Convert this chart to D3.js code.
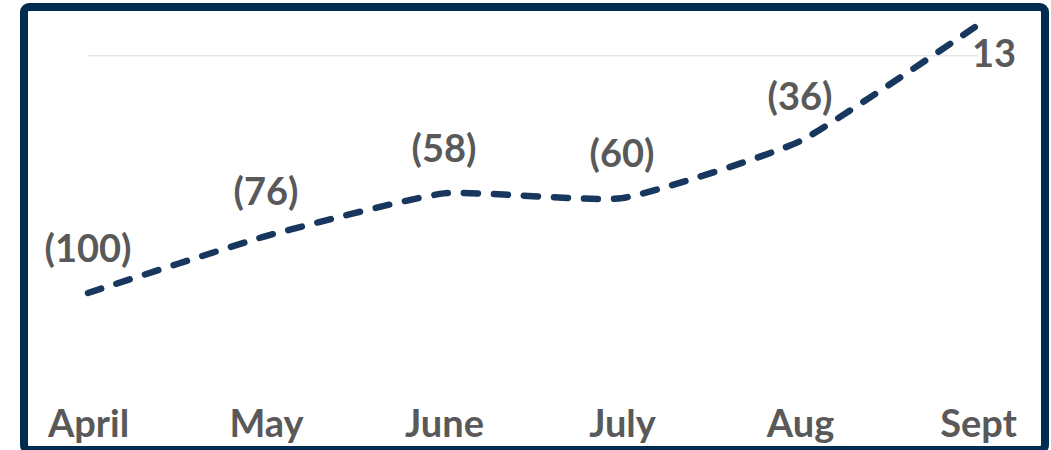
<!DOCTYPE html>
<html>
<head>
<meta charset="utf-8">
<script src="https://cdn.jsdelivr.net/npm/d3@7"></script>
<style>
  html, body { margin: 0; padding: 0; background: #fff; }
  svg { display: block; }
  text { font-family: Lato, "Open Sans", sans-serif; font-weight: 700; fill: #595959; }
</style>
</head>
<body>
<svg id="chart" width="1051" height="450"></svg>
<script>
// Monthly variance
const months = ["April", "May", "June", "July", "Aug", "Sept"];
const values = [-100, -76, -58, -60, -36, 13];
const valueLabels = ["(100)", "(76)", "(58)", "(60)", "(36)", "13"];
const gridValues = [0];

const svg = d3.select("#chart");

const x = d3.scalePoint().domain(months).range([88, 978]);
const y = d3.scaleLinear().domain([-100, 13]).range([293, 25]);

// frame
svg.append("rect")
  .attr("x", 24).attr("y", 7)
  .attr("width", 1021).attr("height", 443)
  .attr("rx", 5)
  .attr("fill", "#fff")
  .attr("stroke", "#002c4f")
  .attr("stroke-width", 8);

// gridline
svg.selectAll("line.grid").data(gridValues).join("line")
  .attr("class", "grid")
  .attr("x1", 88).attr("x2", 978)
  .attr("y1", d => y(d)).attr("y2", d => y(d))
  .attr("stroke", "#d9d9d9").attr("stroke-width", 1);

// category axis (labels only)
const xAxis = svg.append("g")
  .attr("transform", "translate(0,437)")
  .call(d3.axisBottom(x).tickSize(0).tickPadding(0));
xAxis.select(".domain").remove();
xAxis.selectAll("text")
  .attr("dy", 0)
  .attr("y", 0)
  .style("font-size", "38px")
  .style("font-family", "Lato, 'Open Sans', sans-serif")
  .style("font-weight", 700)
  .attr("fill", "#595959");

// dashed, lightly smoothed line
const line = d3.line()
  .x((d, i) => x(months[i]))
  .y(d => y(d))
  .curve(d3.curveCardinal.tension(0.55));

svg.append("path")
  .datum(values)
  .attr("d", line)
  .attr("fill", "none")
  .attr("stroke", "#17375e")
  .attr("stroke-width", 6.5)
  .attr("stroke-linecap", "round")
  .attr("stroke-dasharray", "14,16");

// data labels
const last = values.length - 1;
svg.selectAll("text.val").data(values).join("text")
  .attr("class", "val")
  .attr("x", (d, i) => i === last ? x(months[i]) + 16 : x(months[i]))
  .attr("y", (d, i) => i === last ? y(d) + 42 : y(d) - 31)
  .attr("text-anchor", "middle")
  .style("font-size", "38px")
  .text((d, i) => valueLabels[i]);
</script>
</body>
</html>
